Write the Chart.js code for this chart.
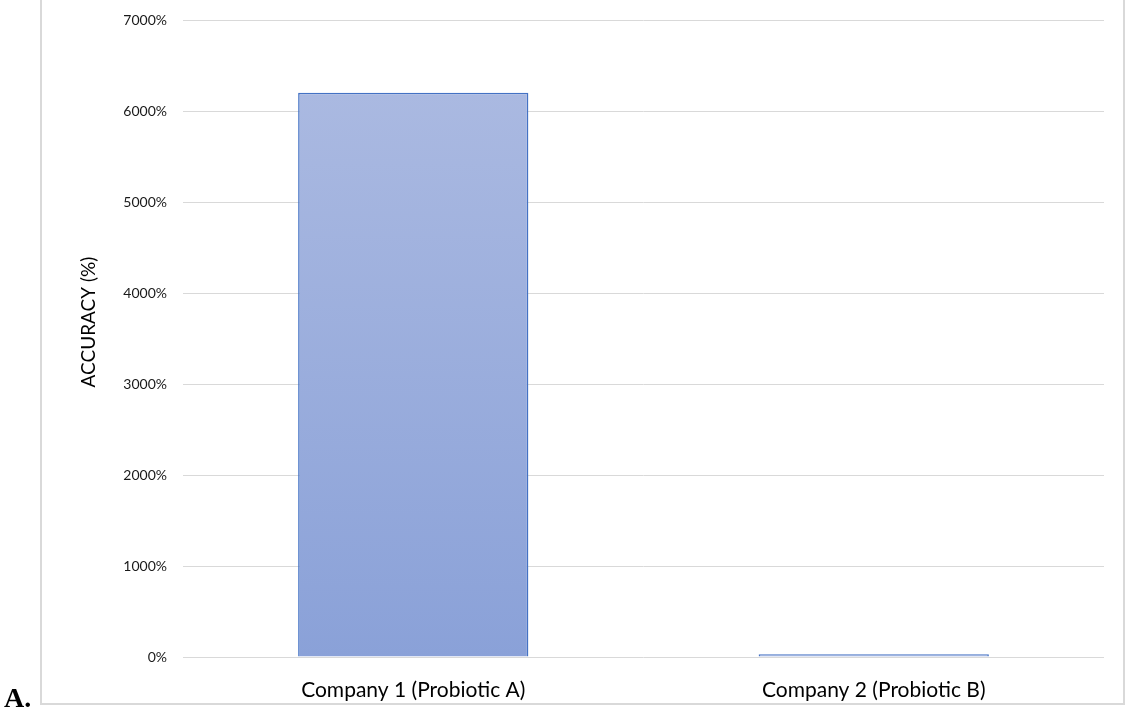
<!DOCTYPE html>
<html>
<head>
<meta charset="utf-8">
<script src="https://cdn.jsdelivr.net/npm/chart.js@4.4.1/dist/chart.umd.min.js"></script>
<style>
  html, body { margin: 0; padding: 0; background: #fff; width: 1126px; height: 711px; overflow: hidden; }
  #wrap { position: absolute; left: 0; top: 0; width: 1126px; height: 711px; }
  #frame { position: absolute; left: 40px; top: -10px; width: 1085px; height: 715px; border: 2px solid #D9D9D9; box-sizing: border-box; pointer-events: none; }
  #lbl { position: absolute; left: 4px; top: 683px; font-family: "Liberation Serif", "Times New Roman", serif; font-weight: bold; font-size: 28px; line-height: 30px; color: #000; }
</style>
</head>
<body>
<div id="wrap">
  <canvas id="c" width="1126" height="711"></canvas>
  <div id="frame"></div>
  <div id="lbl">A.</div>
</div>
<script>
const categories = ["Company 1 (Probiotic A)", "Company 2 (Probiotic B)"];
const accuracyValues = [6200, 30];
const yTickValues = [0, 1000, 2000, 3000, 4000, 5000, 6000, 7000];
const yAxisTitle = "ACCURACY (%)";

const yTitlePlugin = {
  id: 'yTitle',
  afterDraw(chart) {
    const c = chart.ctx;
    c.save();
    c.translate(89, 322);
    c.rotate(-Math.PI / 2);
    c.font = '19px Lato, "Open Sans", sans-serif';
    c.fillStyle = '#000';
    c.textAlign = 'center';
    c.textBaseline = 'middle';
    c.fillText(yAxisTitle, 0, 0);
    c.restore();
  }
};

const ctx = document.getElementById('c').getContext('2d');
new Chart(ctx, {
  type: 'bar',
  data: {
    labels: categories,
    datasets: [{
      data: accuracyValues,
      backgroundColor: (c) => {
        const chart = c.chart;
        const area = chart.chartArea;
        if (!area) return '#9AADDC';
        const y = chart.scales.y;
        const top = y.getPixelForValue(c.raw ?? 0);
        const g = chart.ctx.createLinearGradient(0, top, 0, area.bottom);
        g.addColorStop(0, '#AAB9E1');
        g.addColorStop(1, '#8AA1D8');
        return g;
      },
      borderColor: '#4472C4',
      borderWidth: 1.5,
      barPercentage: 0.5,
      categoryPercentage: 1.0
    }]
  },
  plugins: [yTitlePlugin],
  options: {
    responsive: false,
    animation: false,
    devicePixelRatio: 1,
    layout: { padding: { left: 42, right: 22, top: 0, bottom: 0 } },
    plugins: { legend: { display: false }, tooltip: { enabled: false } },
    scales: {
      x: {
        grid: { display: false, drawTicks: false },
        border: { display: false },
        ticks: { color: '#000', font: { family: 'Lato, "Open Sans", sans-serif', size: 21 }, padding: 21, maxRotation: 0 },
        afterFit: (s) => { s.height = 54; }
      },
      y: {
        min: 0, max: 7000,
        afterBuildTicks: (s) => { s.ticks = yTickValues.map(v => ({ value: v })); },
        grid: { color: '#D9D9D9', lineWidth: 1, drawTicks: false },
        border: { display: false },
        ticks: {
          color: '#1a1a1a',
          font: { family: 'Lato, "Open Sans", sans-serif', size: 14 },
          padding: 16,
          callback: (v) => v + '%'
        },
        title: { display: false, text: yAxisTitle },
        afterFit: (s) => { s.width = 141; s.paddingTop = 20; s.paddingBottom = 0; }
      }
    }
  }
});
</script>
</body>
</html>
